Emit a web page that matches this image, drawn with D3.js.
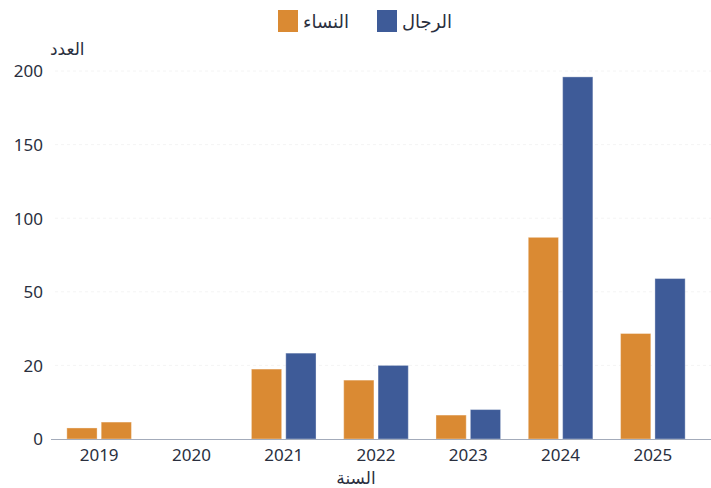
<!DOCTYPE html>
<html lang="ar">
<head>
<meta charset="utf-8">
<script src="https://cdn.jsdelivr.net/npm/d3@7"></script>
<style>
  html, body { margin: 0; padding: 0; background: #ffffff; }
  svg { display: block; }
  svg text { font-family: "Noto Sans", "Open Sans", "DejaVu Sans", sans-serif; }
</style>
</head>
<body>
<svg id="chart" width="711" height="488"></svg>
<script>
// ---- data ----
const years = ["2019", "2020", "2021", "2022", "2023", "2024", "2025"];
const women = [3, 0, 19, 16, 6.5, 87, 33];
const men = [4.6, 0, 25, 20, 8, 196, 59];
const yTicks = [0, 20, 50, 100, 150, 200];
const seriesNames = ["النساء", "الرجال"];
const xTitle = "السنة";
const yTitle = "العدد";

// ---- layout ----
const W = 711, H = 488;
const orange = "#DA8A33", blue = "#3E5B98";
const textColor = "#2a2f3e";
const FONT = '"Noto Sans", "Open Sans", "DejaVu Sans", sans-serif';
const svg = d3.select("#chart");

const x0 = d3.scaleBand().domain(years).range([53, 699]).paddingInner(0.3).paddingOuter(0.15);
const x1 = d3.scaleBand().domain(["w", "m"]).range([0, x0.bandwidth()]).paddingInner(0.12);

const yTop = 71, yBottom = 439;
const y = d3.scaleLinear()
  .domain(yTicks)
  .range(yTicks.map((d, i) => yBottom - i * (yBottom - yTop) / (yTicks.length - 1)));

// gridlines
svg.append("g").selectAll("line").data(yTicks.slice(1)).join("line")
  .attr("x1", 55).attr("x2", W)
  .attr("y1", d => y(d)).attr("y2", d => y(d))
  .attr("stroke", "#f4f4f4").attr("stroke-width", 1).attr("stroke-dasharray", "3,3");

// y axis
const yAxis = d3.axisLeft(y).tickValues(yTicks).tickSize(0).tickPadding(0).tickFormat(d3.format("d"));
const gy = svg.append("g").attr("transform", "translate(43,0)").call(yAxis);
gy.select(".domain").remove();
gy.selectAll("text").attr("fill", textColor).attr("font-family", FONT).style("font-size", "17px").attr("dy", "0.35em");

// bars
const rows = years.map((yr, i) => ({ year: yr, vals: [
  { key: "w", v: women[i], color: orange },
  { key: "m", v: men[i], color: (yr === "2019") ? orange : blue }
]}));

const groups = svg.append("g").selectAll("g").data(rows).join("g")
  .attr("transform", d => `translate(${x0(d.year)},0)`);
groups.selectAll("rect").data(d => d.vals.filter(v => v.v > 0)).join("rect")
  .attr("x", d => x1(d.key))
  .attr("width", x1.bandwidth())
  .attr("y", d => y(d.v))
  .attr("height", d => y(0) - y(d.v))
  .attr("fill", d => d.color)
  .attr("stroke", "rgba(255,255,255,0.35)")
  .attr("stroke-width", 1);

// x axis
const xAxis = d3.axisBottom(x0).tickSize(0).tickPadding(10);
const gx = svg.append("g").attr("transform", `translate(0,${yBottom})`).call(xAxis);
gx.select(".domain").attr("d", `M51,0.5H${W}`).attr("stroke", "#a3abba").attr("stroke-width", 1.2);
gx.selectAll("text").attr("fill", textColor).attr("font-family", FONT).style("font-size", "17px").attr("dy", "0.71em");

// axis titles
svg.append("text").attr("x", 50).attr("y", 55).attr("text-anchor", "end")
  .attr("fill", textColor).attr("font-family", FONT).style("font-size", "17px").attr("direction", "rtl").text(yTitle);
svg.append("text").attr("x", 356).attr("y", 484).attr("text-anchor", "middle")
  .attr("fill", textColor).attr("font-family", FONT).style("font-size", "17px").attr("direction", "rtl").text(xTitle);

// legend
const legendItems = [
  { name: seriesNames[0], color: orange, x: 278 },
  { name: seriesNames[1], color: blue, x: 377 }
];
const lg = svg.append("g").selectAll("g").data(legendItems).join("g")
  .attr("transform", d => `translate(${d.x},10)`);
lg.append("rect").attr("width", 20).attr("height", 22).attr("fill", d => d.color);
lg.append("text").attr("x", 25).attr("y", 18).attr("fill", textColor).attr("font-family", FONT)
  .style("font-size", "18px").attr("text-anchor", "start").text(d => d.name);
</script>
</body>
</html>
